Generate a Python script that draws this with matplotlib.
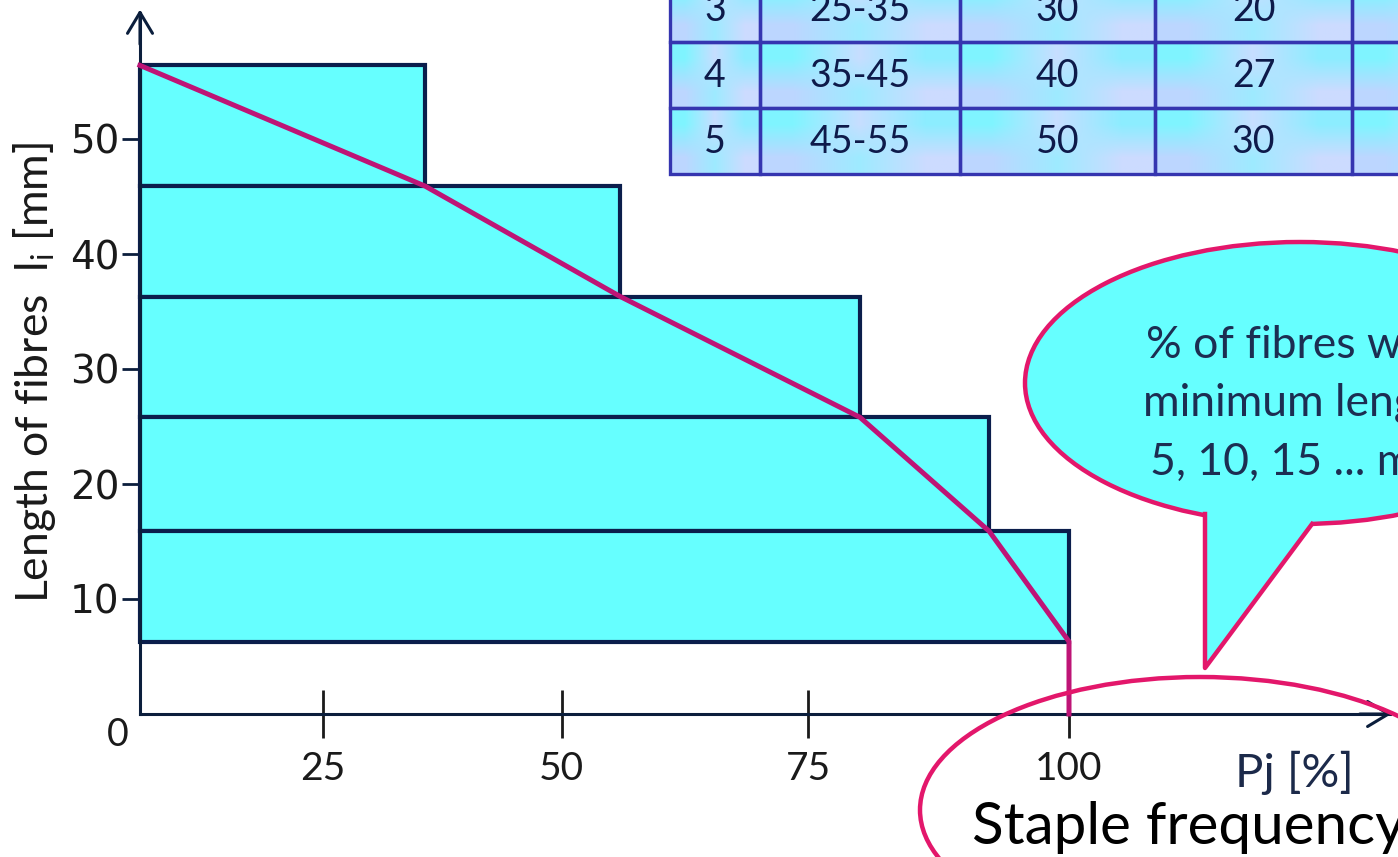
import numpy as np
import matplotlib
matplotlib.use('Agg')
import matplotlib.pyplot as plt
from matplotlib.patches import Ellipse, Polygon, Rectangle

# staple diagram: length classes (mm) and cumulative share of fibres (%)
bar_top = [56.4, 45.9, 36.3, 25.8, 15.9]
bar_bottom = [45.9, 36.3, 25.8, 15.9, 6.3]
cum_pct = [30.7, 51.7, 77.5, 91.4, 100]

y_ticks = [10, 20, 30, 40, 50]
x_tick_pos = [19.7, 45.4, 71.9, 100]
x_tick_lab = ['25', '50', '75', '100']

# visible part of the table on the slide
tab_class = ['3', '4', '5']
tab_range = ['25-35', '35-45', '45-55']
tab_mid = ['30', '40', '50']
tab_n = ['20', '27', '30']

bubble_lines = ['% of fibres with', 'minimum length', '5, 10, 15 ... mm']

W, H = 1398, 857
CYAN = '#66FFFF'
NAVY = '#0B1E4C'
MAG = '#BE1476'
PINK = '#E3176B'

fig = plt.figure(figsize=(W / 100, H / 100), dpi=100)
fig.patch.set_facecolor('white')

# main chart axes, scaled so the origin sits where the slide has it
ax = fig.add_axes([0, 0, 1, 1])
sx, ox = 9.29, 140
sy, oy = 11.5, 714
ax.set_xlim(-ox / sx, (W - ox) / sx)
ax.set_ylim(-(H - oy) / sy, oy / sy)
ax.patch.set_alpha(0)

centers = [(t + b) / 2 for t, b in zip(bar_top, bar_bottom)]
heights = [t - b for t, b in zip(bar_top, bar_bottom)]
ax.barh(centers, cum_pct, height=heights, left=0, color=CYAN,
        edgecolor=NAVY, linewidth=3, zorder=2)

line_x = [0] + cum_pct + [cum_pct[-1]]
line_y = [bar_top[0]] + bar_bottom + [0]
ax.plot(line_x, line_y, color=MAG, lw=3.6, zorder=3)

for s in ['top', 'right']:
    ax.spines[s].set_visible(False)
ax.spines['left'].set_position(('data', 0))
ax.spines['bottom'].set_position(('data', 0))
ax.spines['left'].set_bounds(0, 61)
ax.spines['bottom'].set_bounds(0, 134.5)
for s in ['left', 'bottom']:
    ax.spines[s].set_color('#0B1E3C')
    ax.spines[s].set_linewidth(2.2)

ax.annotate('', xy=(0, 61.5), xytext=(0, 58),
            arrowprops=dict(arrowstyle='->,head_length=0.5,head_width=0.3',
                            color='#0B1E3C', lw=2.2, mutation_scale=30))
ax.annotate('', xy=(135, 0), xytext=(131, 0),
            arrowprops=dict(arrowstyle='->,head_length=0.5,head_width=0.3',
                            color='#0B1E3C', lw=2.2, mutation_scale=30))

ax.set_yticks(y_ticks)
ax.set_xticks(x_tick_pos, x_tick_lab)
ax.tick_params(axis='y', direction='out', length=13, width=2,
               colors='#0B1E3C', labelsize=28, labelcolor='#1a1a1a', pad=2)
ax.tick_params(axis='x', direction='inout', length=34, width=2,
               colors='#1a1a1a', labelsize=28, pad=10)
plt.setp(ax.get_xticklabels(), family='Lato')
plt.setp(ax.get_yticklabels(), family='DejaVu Sans')

# overlay in slide pixels for the annotations
ov = fig.add_axes([0, 0, 1, 1])
ov.patch.set_alpha(0)
ov.axis('off')

ov.text(118, 735, '0', ha='center', va='center', fontsize=27,
        family='Lato', color='#1a1a1a')
ov.text(35, 372, 'Length of fibres  $\\mathregular{l_i}$ [mm]', rotation=90,
        ha='center', va='center', fontsize=32, family='Lato', color='#1a1a1a')

# table
col_x = [670, 760, 960, 1155, 1352, 1550]
row_y = [-24, 42, 108, 174]
grad = np.array([[[0.50, 0.96, 1.0], [0.78, 0.87, 1.0], [0.55, 0.93, 1.0]],
                 [[0.74, 0.84, 1.0], [0.62, 0.92, 1.0], [0.80, 0.86, 1.0]]])
for r in range(3):
    for c in range(5):
        ov.imshow(grad, extent=(col_x[c], col_x[c + 1], row_y[r + 1], row_y[r]),
                  interpolation='bilinear', aspect='auto', zorder=1)
        ov.add_patch(Rectangle((col_x[c], row_y[r]), col_x[c + 1] - col_x[c],
                               row_y[r + 1] - row_y[r], fill=False,
                               edgecolor='#3535B0', lw=2.4, zorder=2))
    vals = [tab_class[r], tab_range[r], tab_mid[r], tab_n[r]]
    for c, v in enumerate(vals):
        ov.text((col_x[c] + col_x[c + 1]) / 2, (row_y[r] + row_y[r + 1]) / 2 + 1, v,
                ha='center', va='center', fontsize=27, family='Lato',
                color='#0E1A4A', zorder=3)

# speech bubble
bx, by, bw, bh = 1300, 383, 550, 282
ov.add_patch(Ellipse((bx, by), bw, bh, facecolor=CYAN, edgecolor=PINK, lw=3.2, zorder=4))
t1, t2, tip = (1205, 514), (1312, 524), (1205, 668)
ov.add_patch(Polygon([(t1[0], t1[1] - 8), t1, tip, t2, (t2[0], t2[1] - 8)],
                     closed=True, facecolor=CYAN, edgecolor='none', zorder=5))
ov.plot([t1[0], tip[0], t2[0]], [t1[1], tip[1], t2[1]], color=PINK, lw=3.2, zorder=6)
for i, s in enumerate(bubble_lines):
    ov.text(1300, 345 + i * 58.5, s, ha='center', va='center', fontsize=32,
            family='Lato', color='#1C2E52', zorder=7)

# ring around the x axis title
ov.add_patch(Ellipse((1200, 810), 560, 266, fill=False, edgecolor=PINK, lw=3.2, zorder=8))
ov.text(1294, 773, 'Pj [%]', ha='center', va='center', fontsize=34,
        family='Lato', color='#1C2A4A', zorder=9)
ov.text(972, 828, 'Staple frequency', ha='left', va='center', fontsize=42,
        family='Lato', color='black', zorder=9)

ov.set_xlim(0, W)
ov.set_ylim(H, 0)

fig.savefig('out.png', dpi=100)
